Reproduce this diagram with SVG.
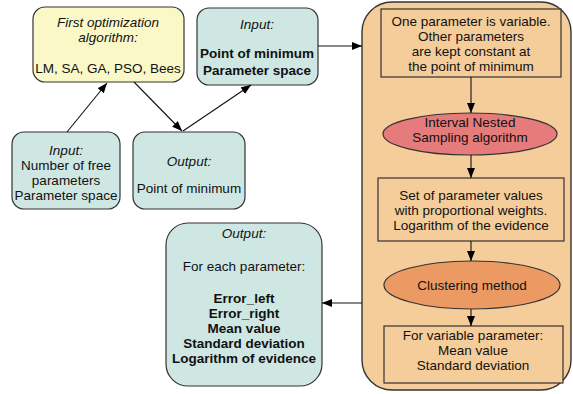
<svg xmlns="http://www.w3.org/2000/svg" width="573" height="394" viewBox="0 0 573 394">
<defs>
<marker id="ah" markerWidth="10" markerHeight="8" refX="10" refY="4" orient="auto" markerUnits="userSpaceOnUse">
<path d="M0,0 L10,4 L0,8 Z" fill="#000"/>
</marker>
<style>
text{font-family:"Liberation Sans",Arial,sans-serif;font-size:13.5px;fill:#111;text-anchor:middle}
.i{font-style:italic}
.b{font-weight:bold}
.teal{fill:#cfe7e3;stroke:#333;stroke-width:1.2}
.yel{fill:#fbf8c8;stroke:#333;stroke-width:1.2}
.box{fill:#f5cd9a;stroke:#333;stroke-width:1.2}
.c{stroke:#111;stroke-width:1.1;fill:none;marker-end:url(#ah)}
</style>
</defs>
<rect width="573" height="394" fill="#fff"/>
<g id="container">
<rect x="362" y="2" width="209" height="388" rx="30" ry="30" fill="#f5cd9a" stroke="#333" stroke-width="1.4"/>
</g>
<g id="first-opt">
<rect class="yel" x="33" y="7" width="151" height="75" rx="12"/>
<text class="i" x="108" y="27">First optimization</text>
<text class="i" x="108" y="42">algorithm:</text>
<text x="108" y="73">LM, SA, GA, PSO, Bees</text>
</g>
<g id="input-top">
<rect class="teal" x="197" y="8" width="121" height="77" rx="12"/>
<text class="i" x="257" y="29">Input:</text>
<text class="b" x="257" y="58">Point of minimum</text>
<text class="b" x="257" y="75">Parameter space</text>
</g>
<g id="input-left">
<rect class="teal" x="12" y="132" width="108" height="77" rx="12"/>
<text class="i" x="66" y="155">Input:</text>
<text x="66" y="170">Number of free</text>
<text x="66" y="185">parameters</text>
<text x="66" y="200">Parameter space</text>
</g>
<g id="output-mid">
<rect class="teal" x="133" y="132" width="112" height="77" rx="12"/>
<text class="i" x="189" y="166">Output:</text>
<text x="189" y="193">Point of minimum</text>
</g>
<g id="output-final">
<rect class="teal" x="166" y="223" width="156" height="163" rx="22"/>
<text class="i" x="244" y="238">Output:</text>
<text x="244" y="271">For each parameter:</text>
<text class="b" x="244" y="303">Error_left</text>
<text class="b" x="244" y="318">Error_right</text>
<text class="b" x="244" y="333">Mean value</text>
<text class="b" x="244" y="348">Standard deviation</text>
<text class="b" x="244" y="363">Logarithm of evidence</text>
</g>
<g id="one-param">
<rect class="box" x="381" y="9" width="180" height="68"/>
<text x="471" y="26">One parameter is variable.</text>
<text x="471" y="41">Other parameters</text>
<text x="471" y="56">are kept constant at</text>
<text x="471" y="71">the point of minimum</text>
</g>
<g id="ins">
<ellipse cx="470" cy="134" rx="87" ry="21" fill="#e57b7b" stroke="#333" stroke-width="1.2"/>
<text x="470" y="127">Interval Nested</text>
<text x="470" y="142">Sampling algorithm</text>
</g>
<g id="param-set">
<rect class="box" x="378" y="178" width="186" height="63"/>
<text x="471" y="200">Set of parameter values</text>
<text x="471" y="215">with proportional weights.</text>
<text x="471" y="230">Logarithm of the evidence</text>
</g>
<g id="clustering">
<ellipse cx="472" cy="285" rx="88" ry="24" fill="#ec9a64" stroke="#333" stroke-width="1.2"/>
<text x="472" y="290">Clustering method</text>
</g>
<g id="result">
<rect class="box" x="384" y="326" width="179" height="57"/>
<text x="473" y="340">For variable parameter:</text>
<text x="473" y="355">Mean value</text>
<text x="473" y="370">Standard deviation</text>
</g>
<g id="connectors">
<line class="c" x1="67" y1="132" x2="107" y2="83"/>
<line class="c" x1="134" y1="82" x2="182" y2="131"/>
<line class="c" x1="183" y1="131" x2="251" y2="85"/>
<line class="c" x1="318" y1="46" x2="362" y2="46"/>
<line class="c" x1="471" y1="77" x2="471" y2="113"/>
<line class="c" x1="471" y1="155" x2="471" y2="178"/>
<line class="c" x1="471" y1="241" x2="471" y2="261"/>
<line class="c" x1="471" y1="309" x2="471" y2="326"/>
<line class="c" x1="362" y1="303" x2="322" y2="303"/>
</g>
</svg>
